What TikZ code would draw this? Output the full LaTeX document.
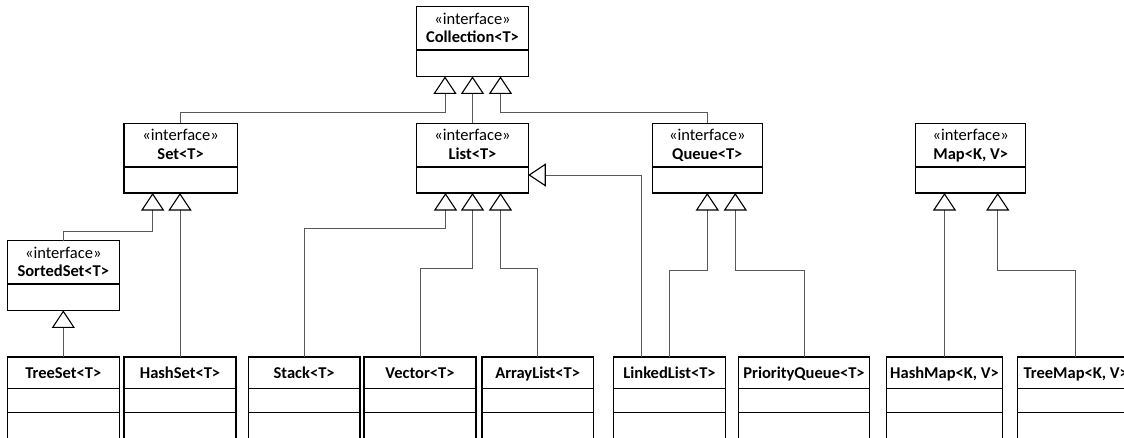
\documentclass[tikz,border=0pt]{standalone}
\usepackage{fontspec}
\setmainfont{Carlito}
\usetikzlibrary{arrows.meta,calc}
\tikzset{
  boxline/.style={draw=black, line width=1.5pt},
  ibox/.style={boxline, inner sep=0pt, outer sep=0pt, anchor=north west, minimum height=69.7pt},
  cbox/.style={boxline, inner sep=0pt, outer sep=0pt, anchor=north west, minimum height=100pt},
  steretext/.style={anchor=base, inner sep=0pt, font=\fontsize{16.5}{19}\selectfont},
  nametext/.style={anchor=base, inner sep=0pt, font=\fontsize{16.5}{19}\selectfont\bfseries},
  inh/.style={draw=black!65, line width=1pt,
    -{Triangle[length=17.5pt, width=23pt, line width=1.1pt, color=black, fill=white]}}
}
\newcommand\ifacebox[5]{%
  \node[ibox, minimum width=#4pt] (#1) at (#2,#3) {};
  \draw[boxline] ($(#1.north west)+(0,43.5)$) -- ($(#1.north east)+(0,43.5)$);
  \node[steretext] (#1-st) at ($(#1.north)+(0,17.5)$) {«interface»};
  \node[nametext] (#1-nm) at ($(#1.north)+(0,36.2)$) {#5};
}
\newcommand\classbox[4]{%
  \node[cbox, minimum width=#3pt] (#1) at (#2,357) {};
  \draw[boxline] ($(#1.north west)+(0,31.3)$) -- ($(#1.north east)+(0,31.3)$);
  \draw[boxline] ($(#1.north west)+(0,55.7)$) -- ($(#1.north east)+(0,55.7)$);
  \node[nametext] (#1-nm) at ($(#1.north)+(0,21.2)$) {#4};
}
\begin{document}
\begin{tikzpicture}[x=1pt,y=-1pt]
\useasboundingbox (0,0) rectangle (1124,437);
\clip (0,0) rectangle (1124,437);
\fill[white] (0,0) rectangle (1124,437);

\ifacebox{Collection}{416.7}{6.7}{111.6}{Collection<T>}
\ifacebox{Set}{124}{123.3}{113.3}{Set<T>}
\ifacebox{List}{416.7}{123.3}{111.6}{List<T>}
\ifacebox{Queue}{652.3}{123.3}{110}{Queue<T>}
\ifacebox{Map}{915.7}{123.3}{110}{Map<K, V>}
\ifacebox{SortedSet}{7.3}{240.7}{112}{SortedSet<T>}

\classbox{TreeSet}{7.3}{112}{TreeSet<T>}
\classbox{HashSet}{124}{112}{HashSet<T>}
\classbox{Stack}{248.3}{111.7}{Stack<T>}
\classbox{Vector}{364}{112}{Vector<T>}
\classbox{ArrayList}{482}{111.3}{ArrayList<T>}
\classbox{LinkedList}{613.3}{112.4}{LinkedList<T>}
\classbox{PriorityQueue}{738.7}{130.6}{PriorityQueue<T>}
\classbox{HashMap}{886.7}{115.6}{HashMap<K, V>}
\classbox{TreeMap}{1017.7}{116}{TreeMap<K, V>}

\draw[inh] (Set.north) -- ++(0,-10.6) -| ($(Collection.south)+(-27.5,0)$);
\draw[inh] (List.north) -- (Collection.south);
\draw[inh] (Queue.north) -- ++(0,-10.6) -| ($(Collection.south)+(28,0)$);
\draw[inh] (SortedSet.north) -- ++(0,-9) -| ($(Set.south)+(-28,0)$);
\draw[inh] (HashSet.north) -- (HashSet.north |- Set.south);
\draw[inh] (TreeSet.north) -- (SortedSet.south);
\draw[inh] (Stack.north) -- ++(0,-128.7) -| ($(List.south)+(-27,0)$);
\draw[inh] (Vector.north) -- ++(0,-88.7) -| (List.south);
\draw[inh] (ArrayList.north) -- ++(0,-88.7) -| ($(List.south)+(28,0)$);
\draw[inh] ($(LinkedList.north)+(-28,0)$) |- ($(List.north east)+(0,51.7)$);
\draw[inh] (LinkedList.north) -- ++(0,-87) -| (Queue.south);
\draw[inh] (PriorityQueue.north) -- ++(0,-87) -| ($(Queue.south)+(28,0)$);
\draw[inh] (HashMap.north) -- (HashMap.north |- Map.south);
\draw[inh] (TreeMap.north) -- ++(0,-86.3) -| ($(Map.south)+(27,0)$);
\end{tikzpicture}
\end{document}
